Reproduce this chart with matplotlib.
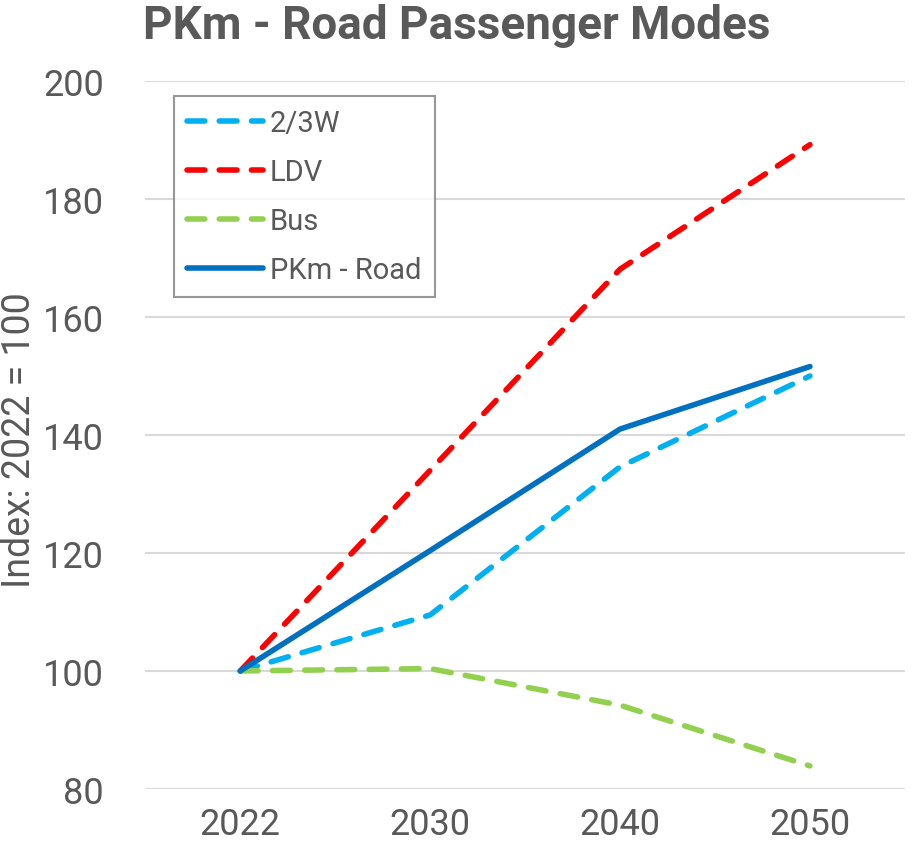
import numpy as np
import matplotlib.pyplot as plt

plt.rcParams['font.family'] = ['Roboto', 'DejaVu Sans']

years = ["2022", "2030", "2040", "2050"]
two_three_w = [100, 109.5, 134.6, 150.0]
ldv = [100, 134.0, 168.1, 189.2]
bus = [100, 100.4, 94.2, 83.9]
pkm_road = [100, 120.4, 141.0, 151.6]

grey = '#595959'
x = np.arange(len(years))

fig = plt.figure(figsize=(9.14, 8.54), dpi=100)
ax = fig.add_axes([0.159, 0.075, 0.831, 0.829])

dash = (3.2, 2.6)
ax.plot(x, two_three_w, color='#00B0F0', lw=4.0, dashes=dash,
        dash_capstyle='round', label='2/3W')
ax.plot(x, ldv, color='#FF0000', lw=4.0, dashes=dash,
        dash_capstyle='round', label='LDV')
ax.plot(x, bus, color='#92D050', lw=4.0, dashes=dash,
        dash_capstyle='round', label='Bus')
ax.plot(x, pkm_road, color='#0070C0', lw=4.0, solid_capstyle='round',
        label='PKm - Road')

ax.set_xlim(-0.5, 3.5)
ax.set_ylim(80, 200)
ax.set_yticks(np.arange(80, 201, 20))
ax.set_xticks(x)
ax.set_xticklabels(years)
ax.grid(axis='y', color='#D9D9D9', lw=1.5)
ax.set_axisbelow(True)
for s in ax.spines.values():
    s.set_visible(False)
ax.tick_params(length=0, labelsize=26, labelcolor=grey, pad=12)
ax.tick_params(axis='y', pad=30)

fig.text(20 / 914, 0.485, "Index: 2022 = 100", fontsize=27, color=grey,
         rotation=90, ha='center', va='center')

fig.suptitle("PKm - Road Passenger Modes", fontsize=33, fontweight='bold',
             color=grey, x=0.5, y=0.995, va='top')

leg = ax.legend(loc='upper left', bbox_to_anchor=(0.022, 0.995), fontsize=21,
                frameon=True, fancybox=False, handlelength=2.6,
                labelspacing=0.72, handletextpad=0.25, borderpad=0.45,
                borderaxespad=0.4)
leg.get_frame().set_edgecolor('#7F7F7F')
leg.get_frame().set_linewidth(1.5)
for t in leg.get_texts():
    t.set_color(grey)

fig.savefig("out.png", dpi=100)
